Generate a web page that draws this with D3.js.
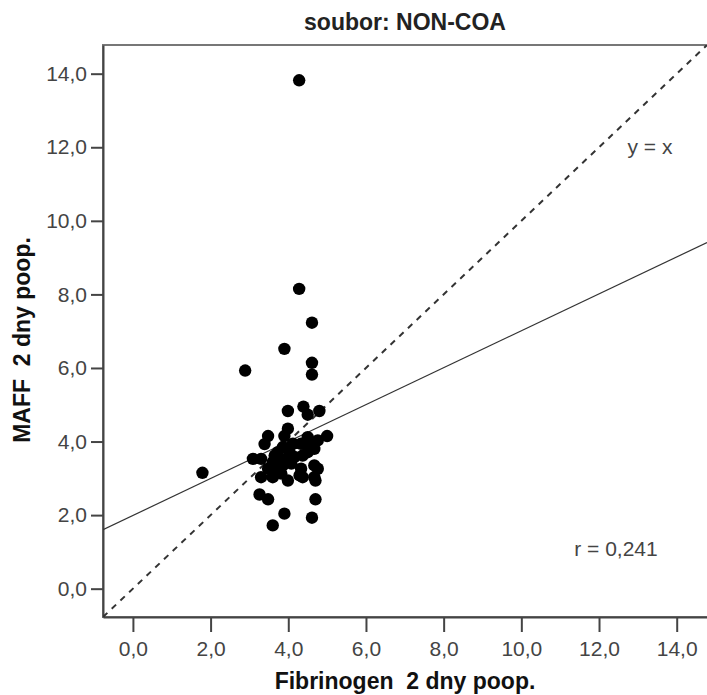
<!DOCTYPE html>
<html>
<head>
<meta charset="utf-8">
<script src="https://d3js.org/d3.v7.min.js"></script>
<style>
  body { margin: 0; background: #fff; }
  text { font-family: "Liberation Sans", Arial, sans-serif; white-space: pre; }
</style>
</head>
<body>
<svg id="chart" width="707" height="695"></svg>
<script>
// values
var fibrinogen = [4.28, 4.28, 4.61, 3.90, 4.61, 4.61, 2.89, 1.79,
    3.99, 4.39, 4.50, 4.80, 5.00, 3.99, 3.90, 3.48, 3.39,
    4.50, 4.76, 4.55, 4.33, 4.12, 3.86, 4.03, 3.73, 3.65, 3.78, 3.95, 4.16, 4.37, 4.50, 4.67,
    3.09, 3.30, 3.60, 3.86, 4.08, 3.65, 3.48, 3.82, 4.33, 4.67, 4.76, 3.30, 3.60, 3.99, 4.29, 4.37, 4.67, 4.70,
    3.26, 3.48, 4.70, 3.90, 4.61, 3.60];
var maff = [13.82, 8.15, 7.23, 6.52, 6.14, 5.82, 5.93, 3.15,
    4.83, 4.95, 4.73, 4.83, 4.15, 4.35, 4.15, 4.15, 3.93,
    4.12, 4.03, 3.89, 3.94, 3.94, 3.85, 3.71, 3.71, 3.62, 3.53, 3.53, 3.58, 3.62, 3.71, 3.80,
    3.53, 3.53, 3.44, 3.35, 3.40, 3.21, 3.26, 3.13, 3.26, 3.35, 3.26, 3.03, 3.03, 2.94, 3.08, 3.03, 3.03, 2.94,
    2.56, 2.43, 2.43, 2.04, 1.93, 1.72];
var tickValues = [0, 2, 4, 6, 8, 10, 12, 14];
var fitIntercept = 1.99, fitSlope = 0.502;
var rLabel = "r = 0,241";

var svg = d3.select("#chart"),
    plotL = 103, plotR = 707, plotT = 45, plotB = 617;

var x = d3.scaleLinear().domain([-0.77, 14.78]).range([plotL, plotR]);
var y = d3.scaleLinear().domain([-0.77, 14.78]).range([plotB, plotT]);
var fmt = function (d) { return d3.format(".1f")(d).replace(".", ","); };

svg.append("defs").append("clipPath").attr("id", "clip")
    .append("rect").attr("x", plotL).attr("y", plotT)
    .attr("width", plotR - plotL).attr("height", plotB - plotT);

// title
svg.append("text")
    .attr("x", 405).attr("y", 30)
    .attr("text-anchor", "middle")
    .style("font-size", "23px").style("font-weight", "bold").style("fill", "#222")
    .text("soubor: NON-COA");

// frame
svg.append("rect")
    .attr("x", plotL).attr("y", plotT)
    .attr("width", plotR - plotL + 2).attr("height", plotB - plotT)
    .attr("fill", "none").attr("stroke", "#777").attr("stroke-width", 2);

// axes
var xAxis = svg.append("g")
    .attr("transform", "translate(0," + plotB + ")")
    .call(d3.axisBottom(x).tickValues(tickValues).tickFormat(fmt).tickSizeInner(15).tickSizeOuter(0).tickPadding(9));
var yAxis = svg.append("g")
    .attr("transform", "translate(" + plotL + ",0)")
    .call(d3.axisLeft(y).tickValues(tickValues).tickFormat(fmt).tickSizeInner(12).tickSizeOuter(0).tickPadding(4));
[xAxis, yAxis].forEach(function (g) {
    g.select(".domain").attr("stroke", "#444").attr("stroke-width", 2);
    g.selectAll(".tick line").attr("stroke", "#444").attr("stroke-width", 2);
    g.selectAll(".tick text").style("font-size", "21px").style("fill", "#444")
        .style("font-family", "'Liberation Sans', Arial, sans-serif");
});

// axis titles
svg.append("text")
    .attr("x", 405).attr("y", 689)
    .attr("text-anchor", "middle")
    .style("font-size", "23px").style("font-weight", "bold").style("fill", "#111")
    .text("Fibrinogen  2 dny poop.");
svg.append("text")
    .attr("transform", "translate(30,340) rotate(-90)")
    .attr("text-anchor", "middle")
    .style("font-size", "23px").style("font-weight", "bold").style("fill", "#111")
    .text("MAFF  2 dny poop.");

var plot = svg.append("g").attr("clip-path", "url(#clip)");
var x0 = x.domain()[0], x1 = x.domain()[1];

// y = x reference line
plot.append("line")
    .attr("x1", x(x0)).attr("y1", y(x0))
    .attr("x2", x(x1)).attr("y2", y(x1))
    .attr("stroke", "#333").attr("stroke-width", 2).attr("stroke-dasharray", "6,6");

// fit line
plot.append("line")
    .attr("x1", x(x0)).attr("y1", y(fitIntercept + fitSlope * x0))
    .attr("x2", x(x1)).attr("y2", y(fitIntercept + fitSlope * x1))
    .attr("stroke", "#333").attr("stroke-width", 1.2);

// points
plot.selectAll("circle")
    .data(fibrinogen)
    .enter().append("circle")
    .attr("cx", function (d) { return x(d); })
    .attr("cy", function (d, i) { return y(maff[i]); })
    .attr("r", 6.2)
    .attr("fill", "#000");

svg.append("text")
    .attr("x", 650).attr("y", 154)
    .attr("text-anchor", "middle")
    .style("font-size", "21px").style("fill", "#444")
    .text("y = x");
svg.append("text")
    .attr("x", 616).attr("y", 556)
    .attr("text-anchor", "middle")
    .style("font-size", "21px").style("fill", "#444")
    .text(rLabel);
</script>
</body>
</html>
